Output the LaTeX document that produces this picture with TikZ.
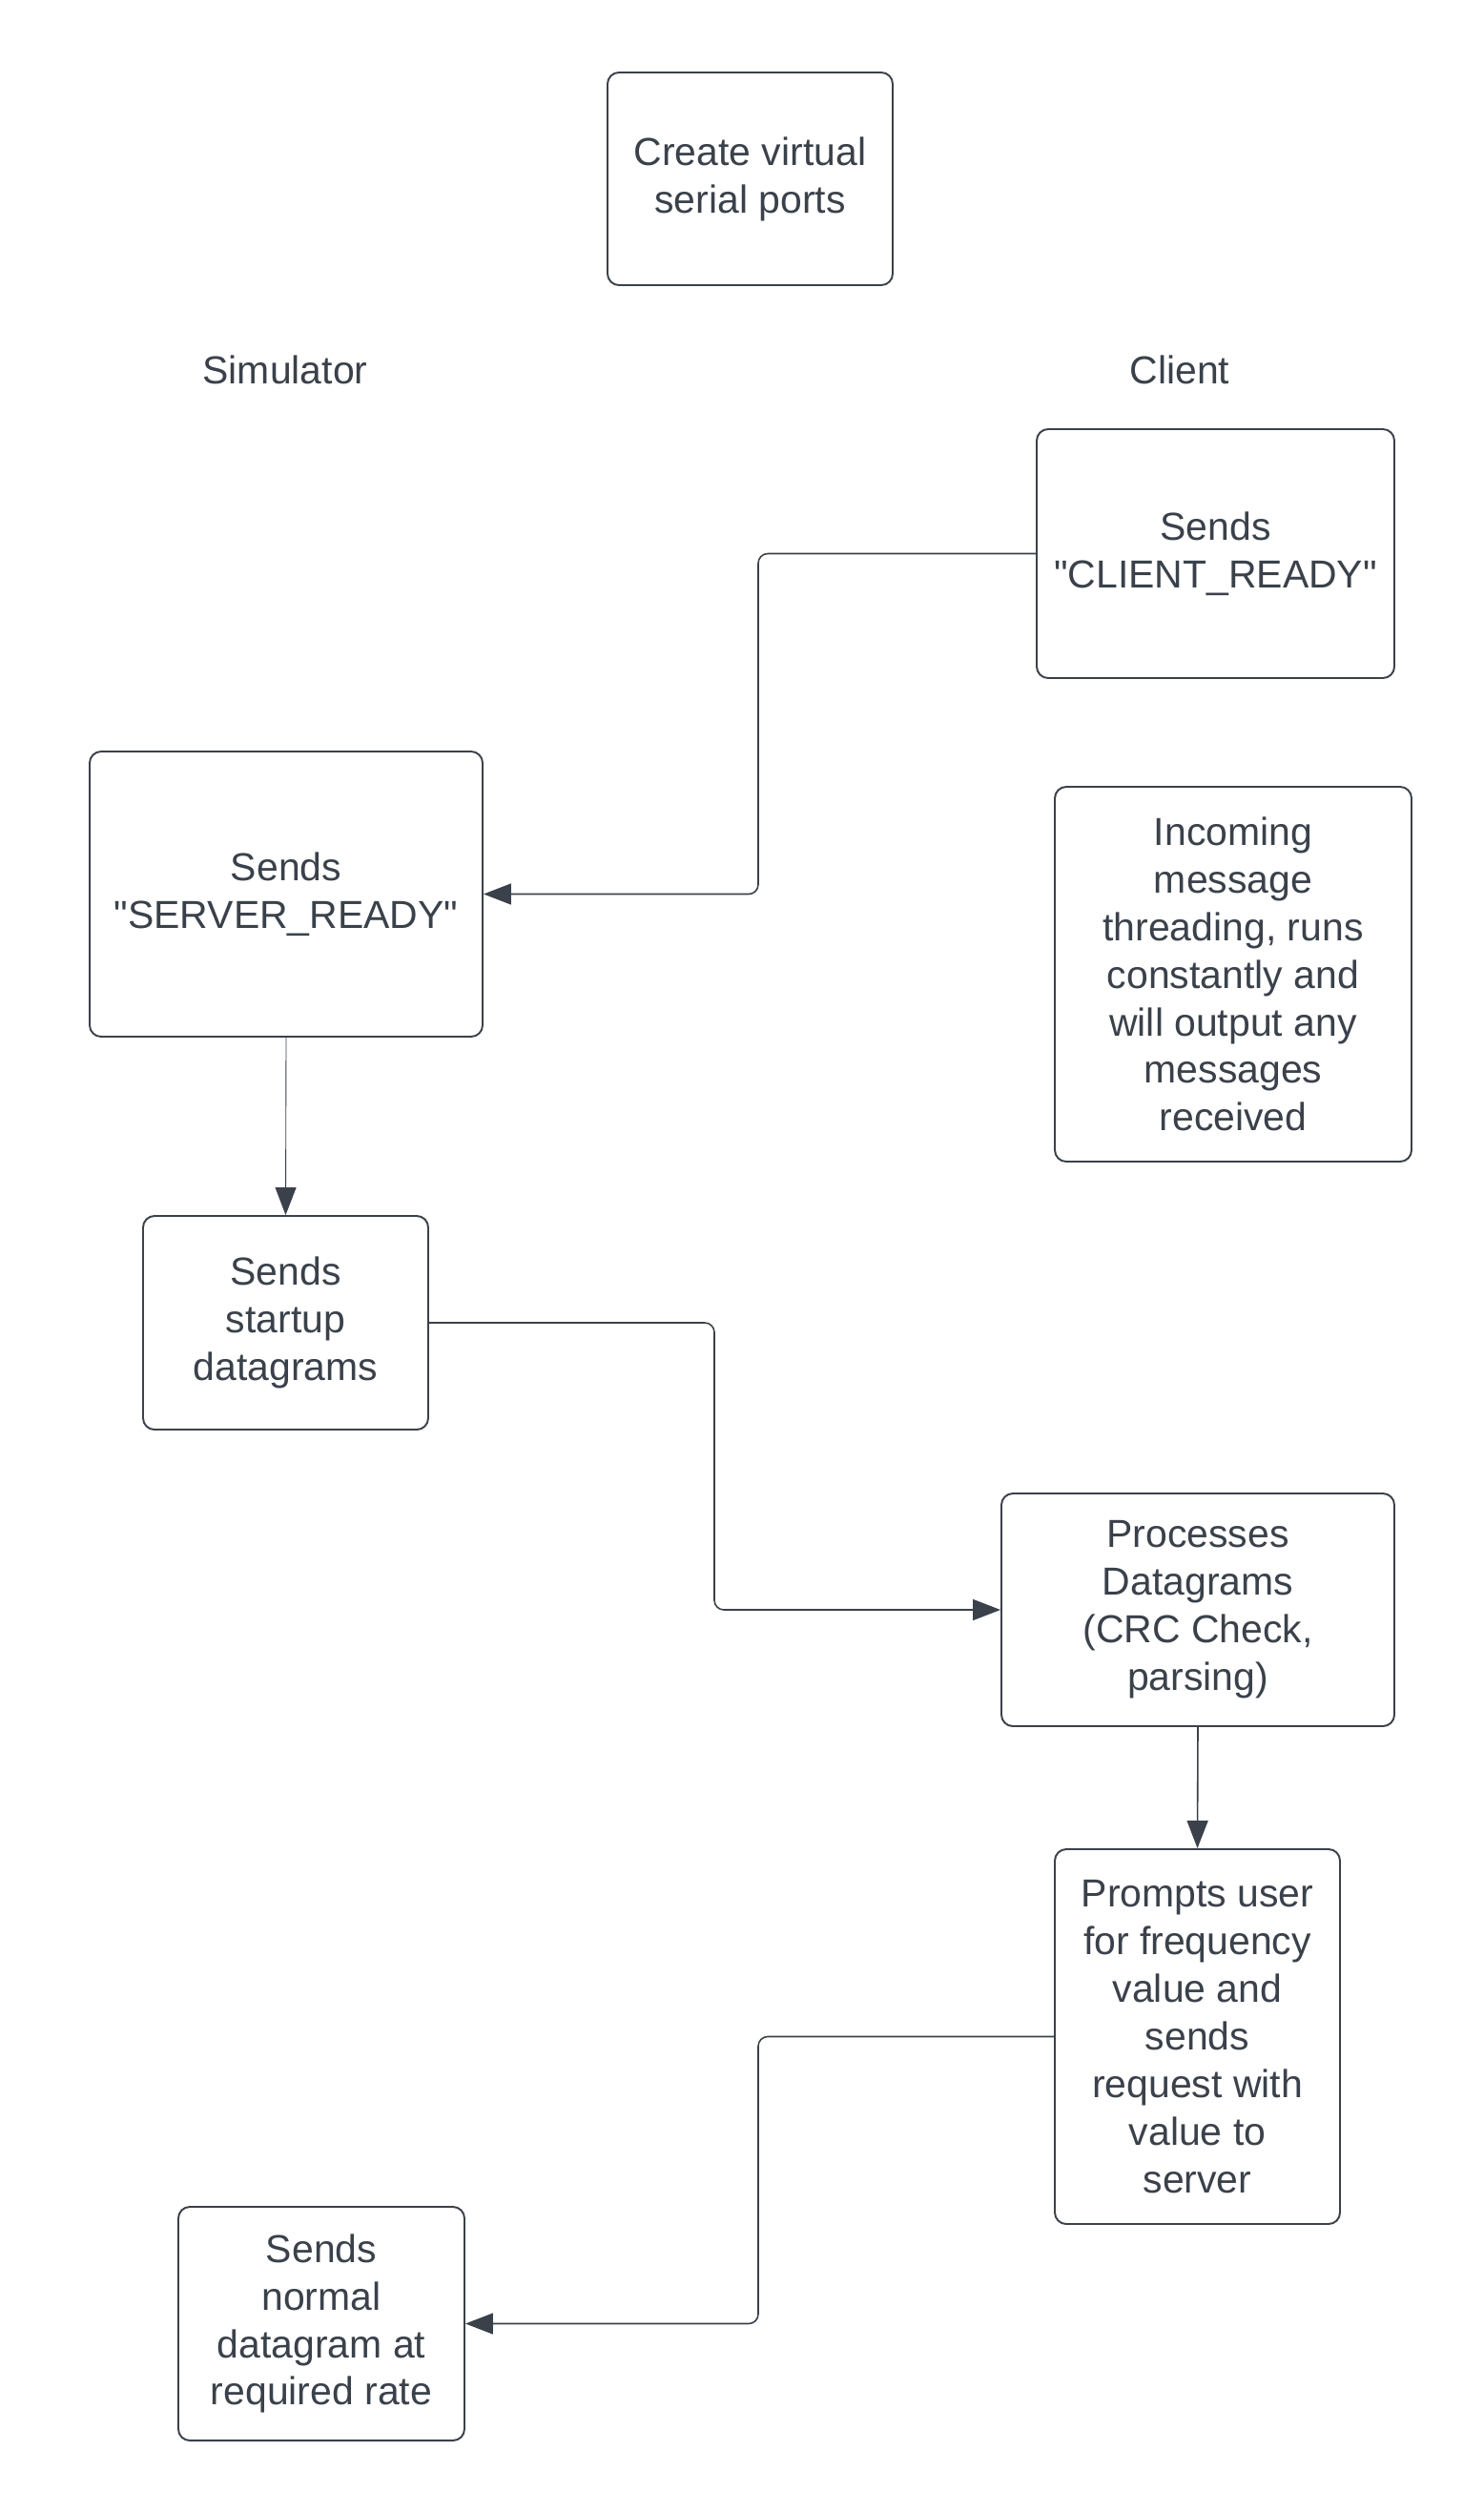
\documentclass[tikz,border=0pt]{standalone}
\usepackage{fontspec}
\setmainfont{Liberation Sans}
\usepackage{tikz}
\usetikzlibrary{arrows.meta}
\definecolor{inkc}{RGB}{58,65,74}

\begin{document}
\begin{tikzpicture}[x=1cm, y=-1cm, >={Triangle[length=0.58cm, width=0.44cm]},
    font=\fontsize{23.3}{28.4}\selectfont, text=inkc,
    box/.style={draw=inkc, line width=1.1pt, rounded corners=0.24cm,
      align=center, inner sep=0pt},
    conn/.style={->, draw=inkc, line width=0.9pt, rounded corners=0.2cm}]
  \useasboundingbox (0,0) rectangle (31.12,52.68);

  % setup step
  \node[box, minimum width=5.98cm, minimum height=4.46cm] (create) at (15.73,3.75)
    {Create virtual\\serial ports\rule{0pt}{0.3cm}};

  % column headings
  \node (simhead) at (5.98,7.76) {Simulator};
  \node (clihead) at (24.74,7.76) {Client};

  % client side
  \node[box, minimum width=7.5cm, minimum height=5.22cm] (clientready) at (25.49,11.61)
    {Sends\\\textquotedbl CLIENT\_READY\textquotedbl};
  \node[box, minimum width=7.48cm, minimum height=7.86cm] (incoming) at (25.86,20.43)
    {Incoming\\message\\threading, runs\\constantly and\\will output any\\messages\\received\rule{0pt}{0.3cm}};
  \node[box, minimum width=8.24cm, minimum height=4.88cm] (process) at (25.12,33.76)
    {Processes\\Datagrams\\(CRC Check,\\parsing)};
  \node[box, minimum width=5.98cm, minimum height=7.86cm] (prompt) at (25.11,42.71)
    {Prompts user\\for frequency\\value and\\sends\\request with\\value to\\server\rule{0pt}{0.3cm}};

  % simulator side
  \node[box, minimum width=8.24cm, minimum height=5.98cm] (serverready) at (6.0,18.75)
    {Sends\\\textquotedbl SERVER\_READY\textquotedbl};
  \node[box, minimum width=5.98cm, minimum height=4.48cm] (startup) at (5.99,27.74)
    {Sends\\startup\\datagrams};
  \node[box, minimum width=6.0cm, minimum height=4.9cm] (normal) at (6.74,48.73)
    {Sends\\normal\\datagram at\\required rate};

  % bend columns of the elbow connectors
  \coordinate (bendA) at (15.9,0);
  \coordinate (bendB) at (14.98,0);

  % connectors
  \draw[conn] (clientready.west) -| (bendA |- serverready.east) -- (serverready.east);
  \draw[->, draw=inkc, line width=0.5pt] (serverready.south) -- (startup.north);
  \draw[conn] (startup.east) -| (bendB |- process.west) -- (process.west);
  \draw[conn] (process.south) -- (prompt.north);
  \draw[conn] (prompt.west) -| (bendA |- normal.east) -- (normal.east);
\end{tikzpicture}
\end{document}
